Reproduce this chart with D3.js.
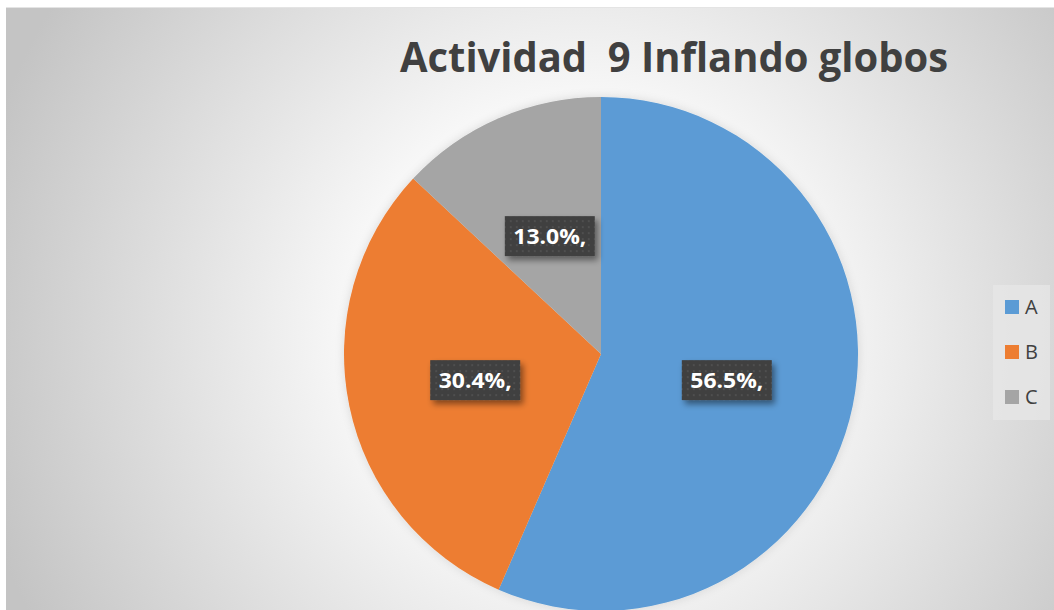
<html>
<head>
<script src="https://cdn.jsdelivr.net/npm/d3@7"></script>
<title>Actividad 9 Inflando globos</title>
<style>
  body { margin: 0; background: #fff; }
</style>
</head>
<body>
<div id="chart"></div>
<script>
// data
var categories = ["A", "B", "C"];
var values = [13, 7, 3];
var colors = ["#5B9BD5", "#ED7D31", "#A5A5A5"];
var title = "Actividad  9 Inflando globos";

var W = 1054, H = 610;
var cx = 601, cy = 354, r = 257;

var svg = d3.select("#chart").append("svg")
  .attr("width", W).attr("height", H);

var defs = svg.append("defs");

// background gradient, white in the middle, gray toward the corners
var bg = defs.append("radialGradient").attr("id", "bg")
  .attr("gradientUnits", "userSpaceOnUse")
  .attr("cx", 580).attr("cy", 330).attr("r", 620);
bg.append("stop").attr("offset", "0").attr("stop-color", "#ffffff");
bg.append("stop").attr("offset", "0.38").attr("stop-color", "#f7f7f7");
bg.append("stop").attr("offset", "1").attr("stop-color", "#c4c4c4");

// dotted fill for the label boxes
var pat = defs.append("pattern").attr("id", "dots")
  .attr("patternUnits", "userSpaceOnUse").attr("width", 6).attr("height", 6);
pat.append("rect").attr("width", 6).attr("height", 6).attr("fill", "#404040");
pat.append("rect").attr("x", 2).attr("y", 2).attr("width", 2).attr("height", 2).attr("fill", "#4f4f4f");

var shadow = defs.append("filter").attr("id", "shadow")
  .attr("x", "-20%").attr("y", "-30%").attr("width", "150%").attr("height", "180%");
shadow.append("feDropShadow").attr("dx", 3).attr("dy", 4)
  .attr("stdDeviation", 3).attr("flood-color", "#000").attr("flood-opacity", 0.45);

var glow = defs.append("filter").attr("id", "glow")
  .attr("x", "-10%").attr("y", "-10%").attr("width", "120%").attr("height", "120%");
glow.append("feDropShadow").attr("dx", 0).attr("dy", 0)
  .attr("stdDeviation", 5).attr("flood-color", "#000").attr("flood-opacity", 0.12);

svg.append("rect")
  .attr("x", 6).attr("y", 7).attr("width", W - 6).attr("height", H - 7)
  .attr("fill", "url(#bg)");
svg.append("line")
  .attr("x1", 6).attr("x2", W).attr("y1", 7.5).attr("y2", 7.5)
  .attr("stroke", "#e4e4e4").attr("stroke-width", 1);

// title (keeps the double space)
svg.append("text")
  .attr("x", 674).attr("y", 72)
  .attr("text-anchor", "middle")
  .attr("font-family", "'Open Sans', sans-serif")
  .attr("font-weight", "bold")
  .attr("font-size", 41)
  .attr("fill", "#404040")
  .style("white-space", "pre")
  .attr("textLength", 548).attr("lengthAdjust", "spacingAndGlyphs")
  .text(title);

// pie
var total = d3.sum(values);
var pie = d3.pie().sort(null).value(function (d) { return d; });
var arcs = pie(values);
var arc = d3.arc().innerRadius(0).outerRadius(r);
var labelArc = d3.arc().innerRadius(r * 0.5).outerRadius(r * 0.5);

var g = svg.append("g").attr("transform", "translate(" + cx + "," + cy + ")");

g.append("g").attr("filter", "url(#glow)")
  .selectAll("path")
  .data(arcs)
  .enter().append("path")
    .attr("d", arc)
    .attr("fill", function (d, i) { return colors[i]; });

var fmt = d3.format(".1%");
var labels = g.selectAll(".lbl")
  .data(arcs)
  .enter().append("g")
    .attr("class", "lbl")
    .attr("transform", function (d) {
      var c = labelArc.centroid(d);
      return "translate(" + c[0] + "," + c[1] + ")";
    });

labels.append("rect")
  .attr("x", -45).attr("y", -20).attr("width", 90).attr("height", 40)
  .attr("fill", "url(#dots)")
  .attr("filter", "url(#shadow)");

labels.append("text")
  .attr("x", 0).attr("y", 8)
  .attr("text-anchor", "middle")
  .attr("font-family", "'Open Sans', sans-serif")
  .attr("font-weight", "bold")
  .attr("font-size", 22)
  .attr("fill", "#ffffff")
  .attr("textLength", 73).attr("lengthAdjust", "spacingAndGlyphs")
  .text(function (d) { return fmt(d.data / total) + ","; });

// legend
var legend = svg.append("g");
legend.append("rect")
  .attr("x", 993).attr("y", 285).attr("width", 57).attr("height", 135)
  .attr("fill", "#e6e6e6").attr("opacity", 0.8);

var items = legend.selectAll(".item")
  .data(categories)
  .enter().append("g")
    .attr("class", "item")
    .attr("transform", function (d, i) { return "translate(1005," + (300 + i * 45) + ")"; });

items.append("rect")
  .attr("width", 14).attr("height", 14)
  .attr("fill", function (d, i) { return colors[i]; });

items.append("text")
  .attr("x", 20).attr("y", 14)
  .attr("font-family", "'Open Sans', sans-serif")
  .attr("font-size", 20)
  .attr("fill", "#404040")
  .text(function (d) { return d; });
</script>
</body>
</html>
